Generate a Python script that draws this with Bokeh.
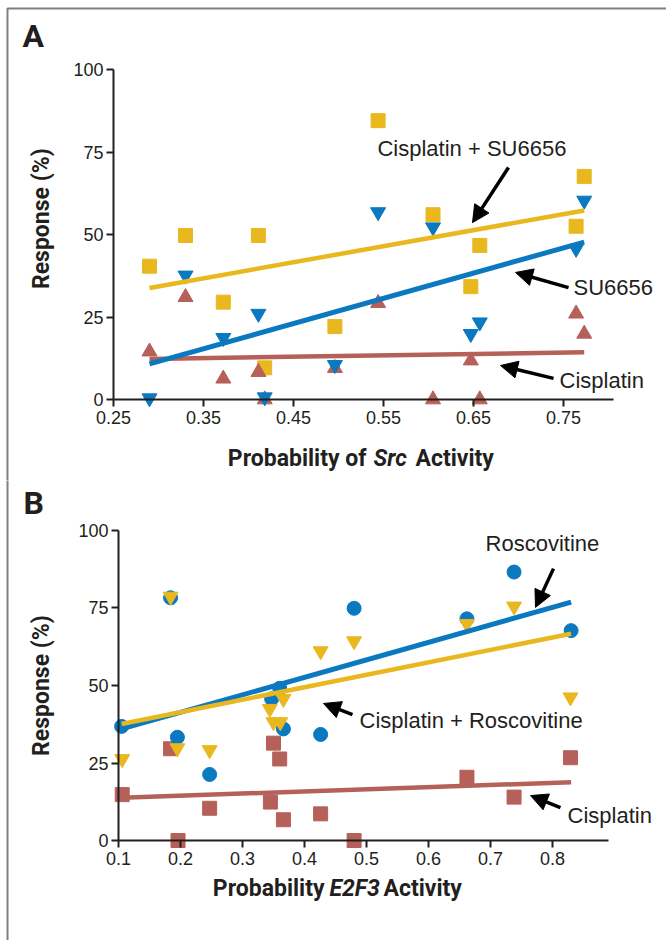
import math
from bokeh.plotting import figure
from bokeh.layouts import column
from bokeh.models import Range1d, Label, Arrow, NormalHead, FixedTicker
from bokeh.embed import file_html
from bokeh.resources import INLINE

# ---------------- Panel A data ----------------
a_x_ticks = [0.25, 0.35, 0.45, 0.55, 0.65, 0.75]
a_y_ticks = [0, 25, 50, 75, 100]

a_src = [0.290, 0.330, 0.372, 0.411, 0.418, 0.496, 0.544, 0.605, 0.647, 0.657, 0.764, 0.773]
a_combo = [40.4, 49.7, 29.5, 49.7, 9.6, 22.1, 84.5, 56.0, 34.2, 46.7, 52.5, 67.6]
a_su6656 = [0.4, 37.6, 18.7, 26.0, 0.7, 10.5, 56.8, 52.2, 19.9, 23.4, 45.7, 60.3]
a_cisplatin = [14.5, 31.0, 6.3, 8.3, 0.0, 9.5, 29.2, 0.0, 11.8, 0.0, 26.0, 19.9]

a_fit_x = [0.290, 0.773]
a_fit_combo = [33.8, 57.3]
a_fit_su6656 = [10.8, 47.7]
a_fit_cisplatin = [12.3, 14.3]

# ---------------- Panel B data ----------------
b_x_ticks = [0.1, 0.2, 0.3, 0.4, 0.5, 0.6, 0.7, 0.8]
b_y_ticks = [0, 25, 50, 75, 100]

b_e2f3 = [0.105, 0.184, 0.195, 0.247, 0.347, 0.360, 0.366, 0.426, 0.480, 0.662, 0.738, 0.830]
b_roscovitine = [36.8, 78.3, 33.3, 21.3, 45.7, 49.1, 36.0, 34.2, 74.9, 71.5, 86.6, 67.7]

b_combo_x = [0.106, 0.184, 0.195, 0.247, 0.344, 0.350, 0.361, 0.366, 0.426, 0.480, 0.662, 0.738, 0.829]
b_combo = [26.3, 78.7, 29.8, 29.2, 42.5, 38.2, 38.2, 45.7, 61.1, 64.3, 69.9, 75.5, 46.2]

b_cis_x = [0.106, 0.184, 0.196, 0.247, 0.345, 0.350, 0.360, 0.366, 0.426, 0.480, 0.662, 0.738, 0.829]
b_cisplatin = [14.8, 29.6, 0.0, 10.4, 12.4, 31.4, 26.3, 6.7, 8.6, 0.0, 20.4, 14.0, 26.7]

b_fit_x = [0.105, 0.830]
b_fit_roscovitine = [36.0, 76.9]
b_fit_combo = [37.6, 66.7]
b_fit_cisplatin = [13.8, 18.8]

YEL = "#E9B81F"
BLU = "#0A79C0"
RED = "#B6605A"
AXC = "#231F20"
BORDER = "#7F7F7F"

TICK_FONT = "Liberation Sans"
TITLE_FONT = "Roboto"
ANN_FONT = "Liberation Sans"
ANN_SIZE = "22px"
TITLE_SIZE = "23px"


def make_fig(h, xr, yr, xbounds, xticks, yticks):
    p = figure(width=666, height=h, x_range=Range1d(*xr), y_range=Range1d(*yr),
               output_backend="svg", toolbar_location=None,
               min_border_left=0, min_border_right=0,
               min_border_top=0, min_border_bottom=0)
    p.grid.visible = False
    p.outline_line_color = None
    p.background_fill_color = "white"
    p.border_fill_color = "white"
    for ax in (p.xaxis[0], p.yaxis[0]):
        ax.axis_line_color = AXC
        ax.axis_line_width = 2
        ax.major_tick_line_color = AXC
        ax.major_tick_line_width = 2
        ax.major_tick_in = 0
        ax.major_tick_out = 7
        ax.minor_tick_line_color = None
        ax.major_label_text_font = TICK_FONT
        ax.major_label_text_font_size = "18px"
        ax.major_label_text_color = AXC
    p.xaxis[0].ticker = FixedTicker(ticks=xticks)
    p.yaxis[0].ticker = FixedTicker(ticks=yticks)
    p.xaxis[0].fixed_location = 0
    p.yaxis[0].fixed_location = xbounds[0]
    p.xaxis[0].bounds = xbounds
    p.yaxis[0].bounds = (0, 100)
    p.xaxis[0].major_label_standoff = 4
    p.yaxis[0].major_label_standoff = 3
    return p


def label(p, x, y, text, size, font=ANN_FONT, style="normal", align="left", angle=0.0):
    p.add_layout(Label(x=x, y=y, text=text, text_font=font, text_font_size=size,
                       text_font_style=style, text_align=align, text_baseline="middle",
                       text_color=AXC, angle=angle))


def arrow(p, xs, ys, xe, ye):
    p.add_layout(Arrow(end=NormalHead(size=17, fill_color="black", line_color="black", line_width=1),
                       x_start=xs, y_start=ys, x_end=xe, y_end=ye,
                       line_color="black", line_width=3.5))


# ---------------- Panel A ----------------
pa = make_fig(480, (0.12444, 0.86444), (-24.545, 120.909), (0.25, 0.8056), a_x_ticks, a_y_ticks)
# page frame (left and top edges)
pa.line([0.1322, 0.1322, 0.95], [-40, 118.5, 118.5], line_color=BORDER, line_width=2)

pa.scatter(a_src, a_combo, marker="square", size=14, color=YEL)
pa.scatter(a_src, a_cisplatin, marker="triangle", size=15, color=RED)
pa.scatter(a_src, a_su6656, marker="inverted_triangle", size=15, color=BLU)
pa.line(a_fit_x, a_fit_cisplatin, line_width=4.5, color=RED)
pa.line(a_fit_x, a_fit_su6656, line_width=5, color=BLU)
pa.line(a_fit_x, a_fit_combo, line_width=4.5, color=YEL)

label(pa, 0.5433, 76.1, "Cisplatin +  SU6656", ANN_SIZE)
arrow(pa, 0.6889, 70.3, 0.6489, 53.6)
label(pa, 0.7611, 33.9, "SU6656", ANN_SIZE)
arrow(pa, 0.7556, 33.9, 0.6967, 38.5)
label(pa, 0.7456, 5.8, "Cisplatin", ANN_SIZE)
arrow(pa, 0.7389, 6.4, 0.6800, 10.3)

label(pa, 0.1489, 110, "A", "32px", font=TITLE_FONT, style="bold")
label(pa, 0.5311, -17.9, "Probability of", TITLE_SIZE, font=TITLE_FONT, style="bold", align="right")
label(pa, 0.5389, -17.9, "Src", TITLE_SIZE, font=TITLE_FONT, style="bold italic", align="left")
label(pa, 0.5856, -17.9, "Activity", TITLE_SIZE, font=TITLE_FONT, style="bold")
label(pa, 0.17, 54.8, "Response (%)", TITLE_SIZE, font=TITLE_FONT, style="bold", align="center",
      angle=math.pi / 2)

# ---------------- Panel B ----------------
pb = make_fig(460, (-0.09032, 0.98387), (-32.258, 116.129), (0.1, 0.89), b_x_ticks, b_y_ticks)
pb.line([-0.079, -0.079], [-60, 160], line_color=BORDER, line_width=2)

pb.scatter(b_cis_x, b_cisplatin, marker="square", size=14, color=RED)
pb.scatter(b_e2f3, b_roscovitine, marker="circle", size=14, color=BLU)
pb.scatter(b_combo_x, b_combo, marker="inverted_triangle", size=15, color=YEL)
pb.line(b_fit_x, b_fit_cisplatin, line_width=4.5, color=RED)
pb.line(b_fit_x, b_fit_roscovitine, line_width=5, color=BLU)
pb.line(b_fit_x, b_fit_combo, line_width=4.5, color=YEL)

label(pb, 0.692, 95.8, "Roscovitine", ANN_SIZE)
arrow(pb, 0.8016, 87.7, 0.7726, 75.2)
label(pb, 0.4887, 38.7, "Cisplatin + Roscovitine", ANN_SIZE)
arrow(pb, 0.4774, 40.6, 0.4306, 44.2)
label(pb, 0.8242, 8.1, "Cisplatin", ANN_SIZE)
arrow(pb, 0.8129, 10.6, 0.7645, 14.5)

label(pb, -0.0532, 109, "B", "32px", font=TITLE_FONT, style="bold")
label(pb, 0.4323, -15.5, "Probability", TITLE_SIZE, font=TITLE_FONT, style="bold", align="right")
label(pb, 0.4403, -15.5, "E2F3", TITLE_SIZE, font=TITLE_FONT, style="bold italic", align="left")
label(pb, 0.5274, -15.5, "Activity", TITLE_SIZE, font=TITLE_FONT, style="bold")
label(pb, -0.024, 50, "Response (%)", TITLE_SIZE, font=TITLE_FONT, style="bold", align="center",
      angle=math.pi / 2)

layout = column(pa, pb, spacing=0)
open("out.html", "w").write(file_html(layout, INLINE))
